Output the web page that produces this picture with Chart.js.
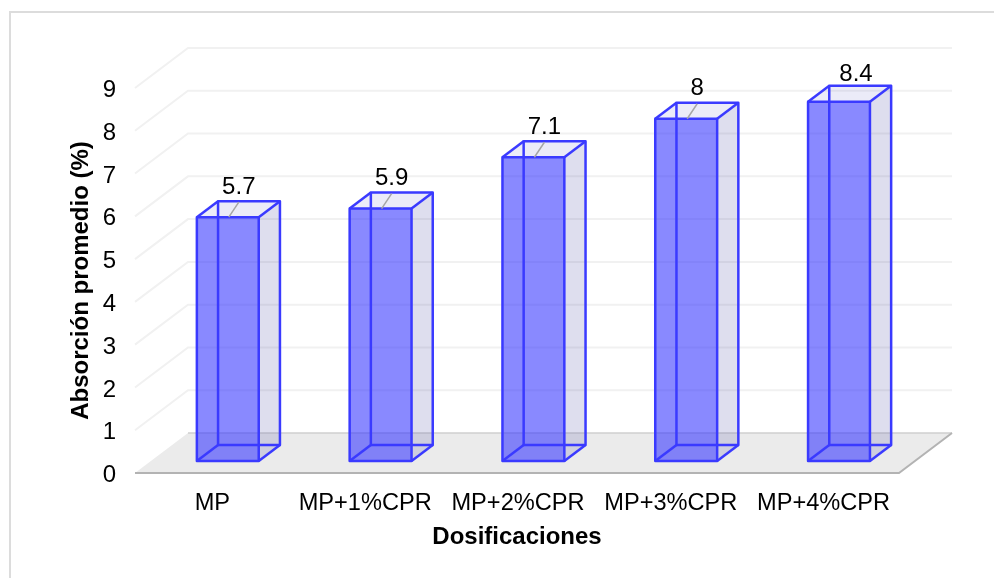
<!DOCTYPE html>
<html>
<head>
<meta charset="utf-8">
<style>
  html, body { margin: 0; padding: 0; background: #fff; }
  #wrap { width: 995px; height: 578px; position: relative; }
  #frame { position: absolute; left: 9px; top: 11px; width: 985px; height: 567px; box-sizing: border-box; border: 2px solid #dcdcdc; border-right: 0; border-bottom: 0; }
</style>
<script src="https://cdn.jsdelivr.net/npm/chart.js@4"></script>
</head>
<body>
<div id="wrap">
  <div id="frame"></div>
  <canvas id="myChart" width="995" height="578" style="position:absolute;left:0;top:0"></canvas>
</div>
<script>
const categories = ['MP', 'MP+1%CPR', 'MP+2%CPR', 'MP+3%CPR', 'MP+4%CPR'];
const absorcion = [5.7, 5.9, 7.1, 8, 8.4];
const yTicks = [0, 1, 2, 3, 4, 5, 6, 7, 8, 9];

// 3D look: depth of the floor in px, bars sit in the middle of it
const DEPTH_X = 53;
const DEPTH_Y = -40;
const BAR_START = 0.3;
const BAR_DEPTH = 0.4;

const FONT = '"Liberation Sans", Arial, sans-serif';

function poly(ctx, pts, fill, stroke, lw) {
    ctx.beginPath();
    pts.forEach((p, i) => i ? ctx.lineTo(p[0], p[1]) : ctx.moveTo(p[0], p[1]));
    if (fill) {
        ctx.closePath();
        ctx.fillStyle = fill;
        ctx.fill();
    }
    if (stroke) {
        ctx.strokeStyle = stroke;
        ctx.lineWidth = lw;
        ctx.stroke();
    }
}

const scene3d = {
    id: 'scene3d',
    beforeDatasetsDraw(chart) {
        const ctx = chart.ctx;
        const {left, right} = chart.chartArea;
        const yScale = chart.scales.y;
        const y0 = yScale.getPixelForValue(0);

        ctx.save();
        // walls
        yTicks.forEach(t => {
            if (t === 0) return;
            const y = yScale.getPixelForValue(t);
            poly(ctx, [[left, y], [left + DEPTH_X, y + DEPTH_Y], [right + DEPTH_X, y + DEPTH_Y]], null, '#f1f1f1', 2);
        });
        // floor
        poly(ctx, [[left, y0], [left + DEPTH_X, y0 + DEPTH_Y], [right + DEPTH_X, y0 + DEPTH_Y], [right, y0]], '#ebebeb');
        poly(ctx, [[left + DEPTH_X, y0 + DEPTH_Y], [right + DEPTH_X, y0 + DEPTH_Y]], null, '#cfcfcf', 1.5);
        poly(ctx, [[left, y0], [right, y0], [right + DEPTH_X, y0 + DEPTH_Y]], null, '#b3b3b3', 2);
        ctx.restore();
    },
    beforeDatasetDraw(chart, args) {
        const ctx = chart.ctx;
        const dx = DEPTH_X * BAR_DEPTH;
        const dy = DEPTH_Y * BAR_DEPTH;
        ctx.save();
        ctx.translate(DEPTH_X * BAR_START + 0.5, DEPTH_Y * BAR_START);
        args.meta.data.forEach(bar => {
            const l = bar.x - bar.width / 2;
            const r = bar.x + bar.width / 2;
            // side and top faces, the front comes from the library
            poly(ctx, [[r, bar.y], [r + dx, bar.y + dy], [r + dx, bar.base + dy], [r, bar.base]], 'rgba(90,90,170,0.2)');
            poly(ctx, [[l, bar.y], [l + dx, bar.y + dy], [r + dx, bar.y + dy], [r, bar.y]], 'rgba(90,90,200,0.12)');
        });
    },
    afterDatasetDraw(chart, args) {
        const ctx = chart.ctx;
        const dx = DEPTH_X * BAR_DEPTH;
        const dy = DEPTH_Y * BAR_DEPTH;
        const blue = '#3a3aff';
        const lw = 2.5;
        ctx.lineJoin = 'round';
        args.meta.data.forEach(bar => {
            const l = bar.x - bar.width / 2;
            const r = bar.x + bar.width / 2;
            poly(ctx, [[l, bar.y], [r, bar.y], [r, bar.base], [l, bar.base]], 'rgba(0,0,0,0)', blue, lw);
            poly(ctx, [[l + dx, bar.base + dy], [l + dx, bar.y + dy], [r + dx, bar.y + dy], [r + dx, bar.base + dy]], 'rgba(0,0,0,0)', blue, lw);
            poly(ctx, [[l, bar.y], [l + dx, bar.y + dy]], null, blue, lw);
            poly(ctx, [[r, bar.y], [r + dx, bar.y + dy]], null, blue, lw);
            poly(ctx, [[l, bar.base], [l + dx, bar.base + dy]], null, blue, lw);
            poly(ctx, [[r, bar.base], [r + dx, bar.base + dy]], null, blue, lw);
        });
        // value labels with their leader lines, the last one has none
        ctx.font = '24px ' + FONT;
        ctx.textAlign = 'center';
        ctx.textBaseline = 'middle';
        args.meta.data.forEach((bar, i) => {
            const last = i === args.meta.data.length - 1;
            if (!last) {
                poly(ctx, [[bar.x + 1, bar.y], [bar.x + 11, bar.y + dy + 1]], null, '#a6a6a6', 1.5);
            }
            ctx.fillStyle = '#000';
            ctx.fillText(String(absorcion[i]), bar.x + (last ? 17 : 11), bar.y + (last ? -27 : -30));
        });
        ctx.restore();
    }
};

new Chart(document.getElementById('myChart'), {
    type: 'bar',
    data: {
        labels: categories,
        datasets: [{
            data: absorcion,
            backgroundColor: 'rgba(51,51,255,0.58)',
            borderWidth: 0,
            barPercentage: 0.405,
            categoryPercentage: 1,
            clip: false
        }]
    },
    plugins: [scene3d],
    options: {
        responsive: false,
        animation: false,
        layout: {padding: {left: 67, top: 88, right: 96, bottom: 26}},
        plugins: {legend: {display: false}, tooltip: {enabled: false}},
        scales: {
            x: {
                grid: {display: false},
                border: {display: false},
                ticks: {color: '#000', font: {family: FONT, size: 23.6}, padding: 8, maxRotation: 0, autoSkip: false, labelOffset: 1},
                title: {display: true, text: 'Dosificaciones', color: '#000', font: {family: FONT, size: 24, weight: 'bold'}, padding: {top: 4, bottom: 0}},
                afterFit: s => { s.height = 79; }
            },
            y: {
                min: 0,
                max: 9,
                afterBuildTicks: s => { s.ticks = yTicks.map(v => ({value: v})); },
                grid: {display: false},
                border: {display: false},
                ticks: {color: '#000', font: {family: FONT, size: 24}, padding: 11, labelOffset: 2.5},
                title: {display: true, text: 'Absorción promedio (%)', color: '#000', font: {family: FONT, size: 24, weight: 'bold'}, padding: 0},
                afterFit: s => { s.width = 68; }
            }
        }
    }
});
</script>
</body>
</html>
